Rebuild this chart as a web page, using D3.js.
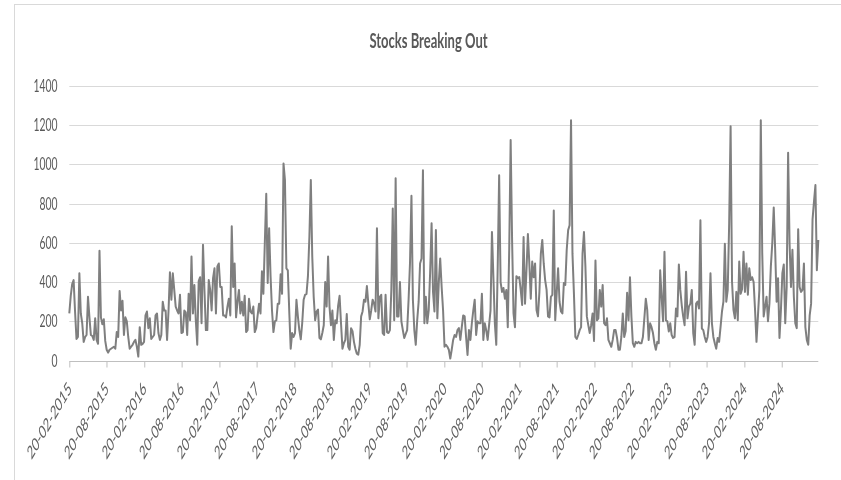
<!DOCTYPE html>
<html><head><meta charset="utf-8">
<script src="https://cdn.jsdelivr.net/npm/d3@7"></script>
<style>body{margin:0;background:#fff}svg{display:block}.gray{filter:grayscale(1)}</style>
</head><body>
<svg id="chart" width="841" height="480"></svg>
<script>
// ---- data (weekly, first week 20-02-2015) ----
const title = "Stocks Breaking Out";
const firstWeek = "2015-02-20";
const breakouts = [
240,330,390,410,250,110,120,445,240,190,
95,120,130,325,220,130,125,105,215,105,
85,560,220,185,210,100,55,40,55,60,
65,70,60,145,120,355,255,305,130,220,
200,120,60,70,80,95,105,70,20,170,
80,85,95,230,250,165,215,110,120,130,
230,240,140,105,130,300,255,255,105,250,
450,310,445,360,275,255,240,335,140,145,
255,245,130,340,205,530,240,385,205,80,
405,425,190,590,360,155,155,410,360,255,
420,470,240,480,495,375,375,230,230,220,
275,315,230,685,375,495,220,300,360,240,
300,230,330,145,155,315,250,240,275,145,
165,230,290,240,455,340,600,850,395,675,
430,255,145,200,205,290,290,440,340,1005,
920,470,460,250,60,140,120,140,310,225,
155,108,190,310,335,340,430,630,920,530,
325,205,250,260,115,108,140,180,400,275,
530,275,180,255,105,205,190,280,330,190,
60,88,105,237,70,55,165,150,95,60,
35,30,80,225,250,310,300,380,290,210,
255,310,290,250,675,215,325,335,140,130,
335,145,140,155,360,775,205,930,225,225,
400,200,155,115,135,155,310,500,840,310,
155,80,205,300,495,520,970,190,325,190,
255,450,700,350,250,665,215,395,520,375,
255,70,80,70,55,10,55,105,130,120,
155,165,105,170,230,225,120,28,155,105,
190,255,310,130,200,190,190,340,105,190,
155,105,180,255,655,425,190,80,480,945,
400,350,370,315,360,170,565,1125,615,240,
170,430,420,425,360,283,630,290,460,645,
495,315,505,425,495,258,225,350,545,615,
495,410,360,225,220,325,335,765,205,340,
470,300,250,240,395,385,565,665,690,1225,
545,345,120,110,130,155,170,545,655,480,
225,180,140,180,240,100,510,205,215,360,
275,385,190,180,215,105,88,70,105,155,
155,115,55,55,120,240,120,150,345,205,
425,225,88,70,95,88,95,88,88,120,
215,315,258,105,190,170,140,88,55,95,
88,460,325,200,555,205,200,148,190,130,
115,120,265,225,490,360,283,225,180,453,
215,275,290,360,140,80,290,300,265,715,
163,155,120,95,120,190,445,190,120,88,
60,115,95,170,250,300,595,300,360,700,
1195,400,258,215,350,205,505,340,365,555,
350,495,335,470,410,425,400,258,95,225,
360,1225,550,225,275,325,200,290,480,600,
780,565,300,420,115,258,445,490,190,375,
1060,600,375,565,325,190,165,670,375,350,
360,495,170,105,80,230,290,720,810,895,
460,615
];
const yTickValues = [0,200,400,600,800,1000,1200,1400];
const xTickLabels = ["20-02-2015","20-08-2015","20-02-2016","20-08-2016","20-02-2017","20-08-2017",
  "20-02-2018","20-08-2018","20-02-2019","20-08-2019","20-02-2020","20-08-2020","20-02-2021",
  "20-08-2021","20-02-2022","20-08-2022","20-02-2023","20-08-2023","20-02-2024","20-08-2024"];

// ---- build ----
const parseISO = d3.utcParse("%Y-%m-%d");
const parseLbl = d3.utcParse("%d-%m-%Y");
const start = parseISO(firstWeek);
const dates = breakouts.map((v,i) => d3.utcDay.offset(start, i*7));
const series = breakouts.map((v,i) => ({date: dates[i], value: v}));
const tickDates = xTickLabels.map(parseLbl);

const m = {left: 69.3, right: 818.3, top: 86, bottom: 360.5};
const SX = 0.62; // horizontal squeeze of the original picture

const svg = d3.select("#chart");
svg.append("rect").attr("x",14.5).attr("y",4.5).attr("width",900).attr("height",600)
   .attr("fill","#fff").attr("stroke","#d9d9d9").attr("stroke-width",1);

const x = d3.scaleUtc().domain([dates[0], dates[dates.length-1]]).range([m.left, m.right]);
const y = d3.scaleLinear().domain([0,1400]).range([m.bottom, m.top]);

// gridlines
svg.append("g").selectAll("line").data(yTickValues.filter(v=>v>0)).join("line")
  .attr("x1",m.left).attr("x2",m.right)
  .attr("y1",d=>Math.round(y(d))+0.5).attr("y2",d=>Math.round(y(d))+0.5)
  .attr("stroke","#d9d9d9").attr("stroke-width",1);

// y labels
svg.append("g").attr("class","gray").selectAll("text").data(yTickValues).join("text")
  .attr("transform",d=>`translate(57.5,${y(d)}) scale(${SX},1)`)
  .attr("text-anchor","end").attr("dy","0.36em")
  .attr("font-family","Lato, 'Open Sans', sans-serif").attr("font-size",16.7)
  .attr("fill","#595959").text(d=>d);

// x axis
const xAxis = d3.axisBottom(x).tickValues(tickDates).tickSize(6).tickFormat("");
const gx = svg.append("g").attr("transform",`translate(0,${Math.round(m.bottom)+0.5})`).call(xAxis);
gx.select(".domain").attr("stroke","#bfbfbf").attr("d",`M${m.left},0H${m.right}`);
gx.selectAll(".tick line").attr("stroke","#bfbfbf");

svg.append("g").attr("class","gray").selectAll("text").data(tickDates).join("text")
  .attr("transform",(d)=>`translate(${x(d)+3},390) scale(0.58,1) rotate(-45)`)
  .attr("text-anchor","end")
  .attr("font-family","Lato, 'Open Sans', sans-serif").attr("font-size",18.5)
  .attr("fill","#606060").text((d,i)=>xTickLabels[i]);

// line
const line = d3.line().x(d=>x(d.date)).y(d=>y(d.value));
svg.append("path").datum(series).attr("d",line)
  .attr("fill","none").attr("stroke","#7f7f7f").attr("stroke-width",2)
  .attr("stroke-linejoin","round");

// title
svg.append("g").attr("class","gray").append("text").attr("transform",`translate(428.5,48) scale(${SX},1)`)
  .attr("text-anchor","middle").attr("font-family","Lato, sans-serif")
  .attr("font-weight","bold").attr("font-size",21).attr("fill","#595959").text(title);
</script>
</body></html>
